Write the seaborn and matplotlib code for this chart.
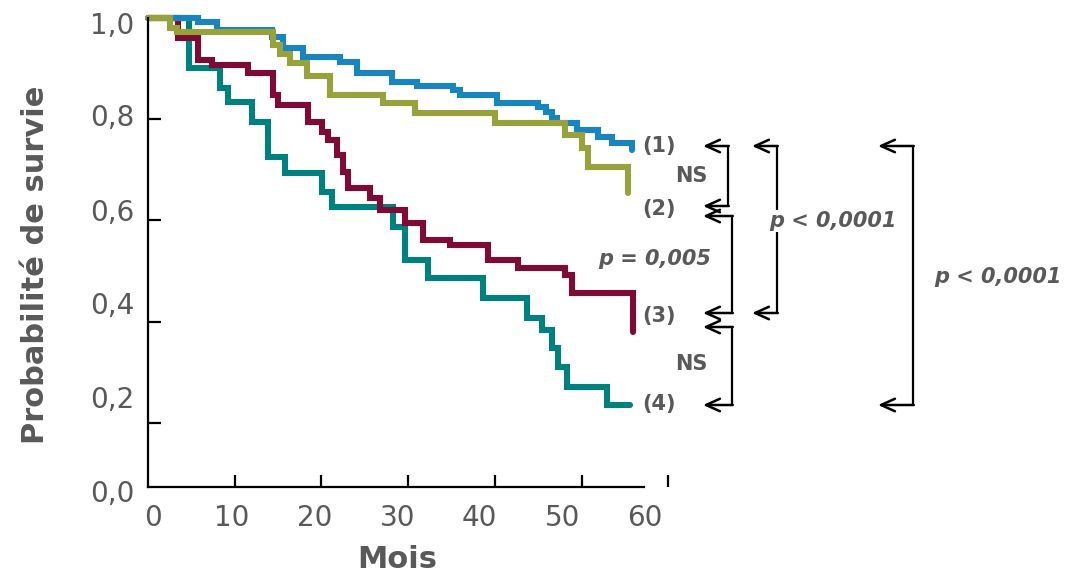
import numpy as np
import pandas as pd
import matplotlib
matplotlib.use('Agg')
import matplotlib.pyplot as plt
from matplotlib.lines import Line2D
import seaborn as sns

# survival curves (months, survival probability)
blue_t = [0, 5.8, 8.0, 14.3, 15.6, 17.9, 22.1, 24.1, 28.1, 31.0, 35.2, 36.0, 40.3,
          45.0, 45.9, 46.6, 47.2, 49.5, 51.9, 53.5, 55.8]
blue_s = [1.0, 0.992, 0.976, 0.962, 0.941, 0.923, 0.913, 0.891, 0.874, 0.866, 0.858,
          0.848, 0.832, 0.824, 0.814, 0.802, 0.792, 0.779, 0.765, 0.753, 0.739]
blue_end = 55.8

olive_t = [0, 2.5, 3.3, 14.4, 15.2, 16.4, 18.3, 21.0, 27.1, 30.8, 40.0, 48.1, 50.1, 50.7, 55.4]
olive_s = [1.0, 0.980, 0.972, 0.947, 0.929, 0.911, 0.885, 0.848, 0.832, 0.812, 0.792,
           0.769, 0.743, 0.706, 0.654]
olive_end = 55.4

maroon_t = [0, 3.5, 5.8, 7.4, 11.5, 14.4, 15.0, 18.5, 20.1, 20.8, 21.8, 22.5, 23.1, 25.6,
            26.8, 29.6, 31.7, 34.8, 39.2, 42.7, 48.1, 48.9, 55.9]
maroon_s = [1.0, 0.960, 0.917, 0.907, 0.891, 0.848, 0.828, 0.794, 0.775, 0.759, 0.729,
            0.696, 0.664, 0.644, 0.621, 0.595, 0.561, 0.551, 0.522, 0.506, 0.492, 0.457, 0.379]
maroon_end = 55.9

teal_t = [0, 4.7, 8.3, 9.2, 12.0, 13.8, 15.8, 20.1, 21.2, 28.3, 29.6, 32.3, 38.6, 43.7,
          45.4, 46.6, 47.3, 48.3, 52.9]
teal_s = [1.0, 0.901, 0.862, 0.834, 0.794, 0.725, 0.694, 0.656, 0.626, 0.587, 0.522,
          0.486, 0.447, 0.407, 0.383, 0.348, 0.310, 0.271, 0.235]
teal_end = 55.6

x_ticks = [10, 20, 30, 40, 50, 60]
y_ticks = [0.2, 0.4, 0.6, 0.8, 1.0]
x_tick_labels = ['0', '10', '20', '30', '40', '50', '60']
y_tick_labels = ['0,0', '0,2', '0,4', '0,6', '0,8', '1,0']

group_labels = ['(1)', '(2)', '(3)', '(4)']

colors = ['#1985BE', '#97A23D', '#7D0B36', '#00807E']
grey = '#595959'

sns.set_style('white')
plt.rcParams['font.family'] = ['DejaVu Sans']

W, H = 1091, 573
fig = plt.figure(figsize=(W / 100, H / 100), dpi=100)

# pixel geometry of the original
x0_px, px_month = 148, 8.67
y0_px, px_unit = 524, 506
xlim = (0, 61)
ylim = (0.055, 1.02)
left = x0_px
right = x0_px + xlim[1] * px_month
top = y0_px - ylim[1] * px_unit
bottom = y0_px - ylim[0] * px_unit
ax = fig.add_axes([left / W, 1 - bottom / H, (right - left) / W, (bottom - top) / H])


def fx(px):
    return px / W


def fy(py):
    return 1 - py / H


def to_ax(px, py):
    return (px - left) / (right - left), (bottom - py) / (bottom - top)


curves = [(blue_t, blue_s, blue_end), (olive_t, olive_s, olive_end),
          (maroon_t, maroon_s, maroon_end), (teal_t, teal_s, teal_end)]
zorders = [4, 5, 3, 2]  # olive sits on top of blue, teal under the rest at the start
for (t, s, end), c, z in zip(curves, colors, zorders):
    df = pd.DataFrame({'mois': t + [end], 'surv': s + [s[-1]]})
    sns.lineplot(data=df, x='mois', y='surv', drawstyle='steps-post', estimator=None,
                 sort=False, color=c, lw=4.4, ax=ax, solid_capstyle='round',
                 solid_joinstyle='miter', clip_on=False, zorder=z)

ax.set_xlim(*xlim)
ax.set_ylim(*ylim)
y_axis_bottom = (y0_px - 487) / px_unit
ax.spines['top'].set_visible(False)
ax.spines['right'].set_visible(False)
ax.spines['bottom'].set_position(('data', y_axis_bottom))
ax.spines['bottom'].set_bounds(0, (644 - x0_px) / px_month)
ax.spines['left'].set_bounds(y_axis_bottom, 1.0)
for sp in ['bottom', 'left']:
    ax.spines[sp].set_linewidth(1.6)
    ax.spines[sp].set_color('black')
    ax.spines[sp].set_zorder(6)

# tick marks
ax.set_xticks(x_ticks)
ax.set_yticks(y_ticks)
ax.tick_params(which='major', direction='in', length=9, width=1.6, color='black',
               bottom=True, left=True, labelbottom=False, labelleft=False)

# tick labels sit slightly off the tick marks in the original
x_lab_px = [152.5, 232, 315, 397.5, 479.5, 562.5, 644.5]
y_lab_px = [491, 397, 303, 210, 115, 23]
ax.set_xticks([(p - x0_px) / px_month for p in x_lab_px], x_tick_labels, minor=True)
ax.set_yticks([(y0_px - p) / px_unit for p in y_lab_px], y_tick_labels, minor=True)
ax.tick_params(which='minor', length=0, labelsize=20, labelcolor=grey,
               bottom=True, left=True, labelbottom=True, labelleft=True)
ax.tick_params(axis='x', which='minor', pad=12)
ax.tick_params(axis='y', which='minor', pad=10)

ax.set_xlabel('Mois', fontsize=22, fontweight='bold', color=grey, va='center')
ax.set_ylabel('Probabilité de survie', fontsize=22, fontweight='bold', color=grey, va='center')
ax.xaxis.set_label_coords(*to_ax(397, 559))
ax.yaxis.set_label_coords(*to_ax(36, 265))

# group labels
for lab, py in zip(group_labels, [146, 209, 316, 404]):
    fig.text(fx(659), fy(py), lab, fontsize=15, fontweight='bold', color=grey,
             ha='center', va='center')

# comparison brackets: (vertical x, top y, bottom y, arrow tip x)
brackets = [(728, 146, 206, 703), (732, 216, 313, 703), (732, 327, 405, 703),
            (777, 146, 313, 752), (913, 146, 405, 878)]
for vx, y1, y2, tip in brackets:
    fig.add_artist(Line2D([fx(vx), fx(vx)], [fy(y1), fy(y2)], color='black', lw=1.6,
                          transform=fig.transFigure))
    for yy in (y1, y2):
        ax.annotate('', xy=(fx(tip), fy(yy)), xytext=(fx(vx) + 0.0007, fy(yy)),
                    xycoords='figure fraction', textcoords='figure fraction',
                    arrowprops=dict(arrowstyle='->,head_length=1.0,head_width=0.45',
                                    lw=1.8, color='black', shrinkA=0, shrinkB=0))

fig.text(fx(691), fy(176), 'NS', fontsize=15, fontweight='bold', color=grey,
         ha='center', va='center')
fig.text(fx(691), fy(364), 'NS', fontsize=15, fontweight='bold', color=grey,
         ha='center', va='center')
fig.text(fx(655), fy(259), 'p = 0,005', fontsize=15, fontweight='bold', style='italic',
         color=grey, ha='center', va='center')
fig.text(fx(833), fy(221), 'p < 0,0001', fontsize=15, fontweight='bold', style='italic',
         color=grey, ha='center', va='center',
         bbox=dict(facecolor='white', edgecolor='none', pad=1))
fig.text(fx(998), fy(277), 'p < 0,0001', fontsize=15, fontweight='bold', style='italic',
         color=grey, ha='center', va='center')

fig.savefig('out.png', dpi=100)
